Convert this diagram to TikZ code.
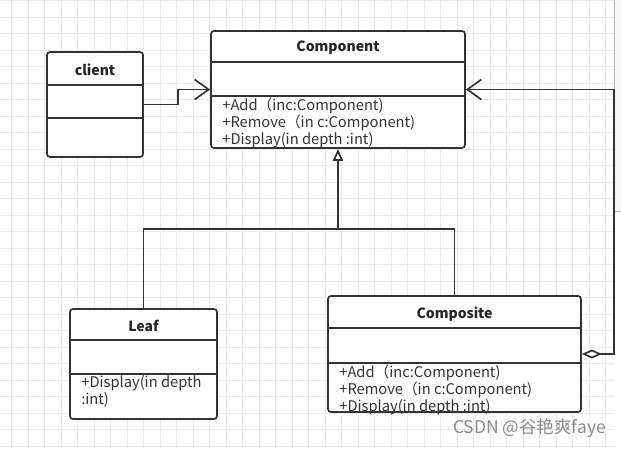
\documentclass[tikz,border=0pt]{standalone}
\usepackage{fontspec}
\newfontfamily\yahei{Noto Sans CJK SC}
\usetikzlibrary{arrows.meta,positioning,calc}

\begin{document}
\begin{tikzpicture}[
    x=1pt, y=-1pt,
    umlbox/.style={rectangle, rounded corners=3pt, draw=black!80, line width=1.7pt, fill=white, inner sep=0pt},
    classname/.style={font=\yahei\fontsize{14}{15}\selectfont\bfseries, text=black!85, inner sep=0pt, minimum height=32pt, yshift=-1.5pt},
    methods/.style={font=\yahei\fontsize{14.7}{17}\selectfont, text=black!80, align=left, anchor=north west, inner sep=0pt},
    divider/.style={draw=black!80, line width=1.7pt},
    link/.style={draw=black!80, line width=1.7pt},
    assoc/.style={link, -{Straight Barb[length=14pt, width=20pt, line width=1.7pt]}},
    inherit/.style={link, -{Triangle[open, length=12pt, width=10pt, fill=white, line width=1.7pt]}},
    aggregate/.style={link, {Diamond[open, length=20pt, width=9pt, fill=white, line width=1.7pt]}-{Straight Barb[length=14pt, width=20pt, line width=1.7pt]}},
    minorgrid/.style={draw=black!8, line width=0.8pt},
    majorgrid/.style={draw=black!13, line width=0.8pt}
]
    \useasboundingbox (0,0) rectangle (621,448);
    \fill[white] (0,0) rectangle (621,448);

    % grid
    \foreach \k in {0,...,36} {
        \pgfmathsetmacro{\gx}{11.5+16.5*\k}
        \ifnum\numexpr\k-4*(\k/4)\relax=3 \def\gs{majorgrid}\else\def\gs{minorgrid}\fi
        \draw[\gs] (\gx,0) -- (\gx,448);
    }
    \foreach \k in {0,...,27} {
        \pgfmathsetmacro{\gy}{0.5+16.5*\k}
        \ifnum\numexpr\k-4*(\k/4)\relax=3 \def\gs{majorgrid}\else\def\gs{minorgrid}\fi
        \draw[\gs] (0,\gy) -- (614,\gy);
    }
    \fill[black!4] (614.5,0) rectangle (621,211);
    \draw[black!30, line width=0.8pt] (614.5,0) -- (614.5,211) -- (621,211);

    % classes
    \node[umlbox, minimum width=96pt, minimum height=105pt] (client) at (95,104.5) {};
    \node[classname, below=0pt of client.north, minimum height=34pt] (client-name) {client};
    \draw[divider] ([yshift=-34pt]client.north west) -- ([yshift=-34pt]client.north east);
    \draw[divider] ([yshift=-67pt]client.north west) -- ([yshift=-67pt]client.north east);

    \node[umlbox, minimum width=254pt, minimum height=117pt] (component) at (338,89.5) {};
    \node[classname, below=0pt of component.north] (component-name) {Component};
    \draw[divider] ([yshift=-32pt]component.north west) -- ([yshift=-32pt]component.north east);
    \draw[divider] ([yshift=-66pt]component.north west) -- ([yshift=-66pt]component.north east);
    \node[methods] (component-ops) at ($(component.north west)+(12,68)$)
        {+Add（inc:Component)\\+Remove（in c:Component)\\+Display(in depth :int)};

    \node[umlbox, minimum width=147pt, minimum height=110pt] (leaf) at (143.5,364) {};
    \node[classname, below=0pt of leaf.north] (leaf-name) {Leaf};
    \draw[divider] ([yshift=-32pt]leaf.north west) -- ([yshift=-32pt]leaf.north east);
    \draw[divider] ([yshift=-66pt]leaf.north west) -- ([yshift=-66pt]leaf.north east);
    \node[methods] (leaf-ops) at ($(leaf.north west)+(12,67)$)
        {+Display(in depth\\:int)};

    \node[umlbox, minimum width=253pt, minimum height=116pt] (composite) at (454.5,354) {};
    \node[classname, below=0pt of composite.north, minimum height=34pt] (composite-name) {Composite};
    \draw[divider] ([yshift=-33pt]composite.north west) -- ([yshift=-33pt]composite.north east);
    \draw[divider] ([yshift=-68pt]composite.north west) -- ([yshift=-68pt]composite.north east);
    \node[methods] (composite-ops) at ($(composite.north west)+(12,70)$)
        {+Add（inc:Component)\\+Remove（in c:Component)\\+Display(in depth :int)};

    % relations
    \draw[assoc] (client.east) -- ++(34,0) |- (component.west);
    \draw[aggregate] (composite.east) -- ++(32,0) |- (component.east);
    \coordinate (split) at (component.south |- 0,229);
    \draw[inherit] (split) -- (component.south);
    \draw[link] (leaf.north) |- (split) -| (composite.north);

    \node[font=\yahei\fontsize{17.5}{19}\selectfont, text=black!45, inner sep=0pt] (mark) at (529.5,428) {CSDN @谷艳爽faye};
\end{tikzpicture}
\end{document}
